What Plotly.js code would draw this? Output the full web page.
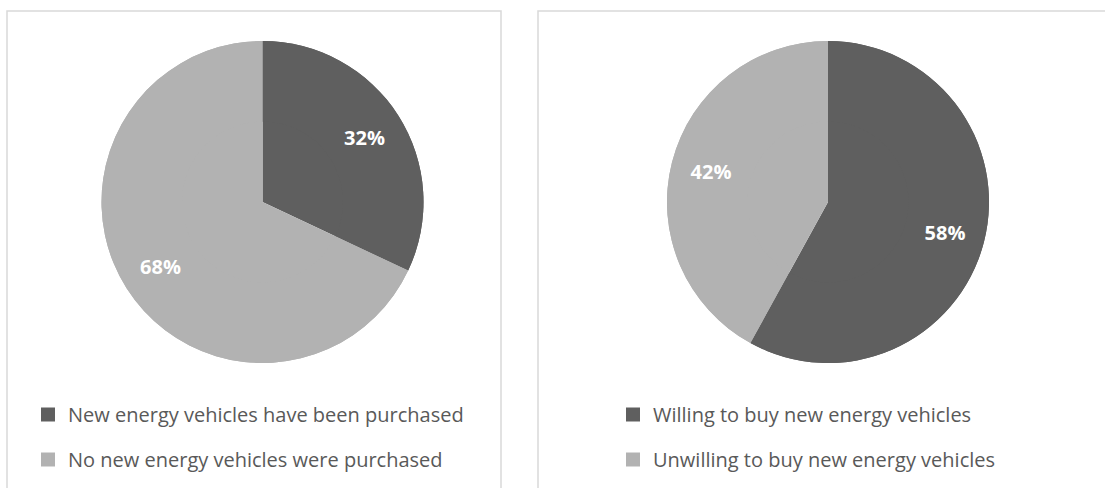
<!DOCTYPE html>
<html>
<head>
<meta charset="utf-8">
<script src="https://cdn.plot.ly/plotly-3.0.1.min.js"></script>
<style>
html,body{margin:0;padding:0;background:#fff;}
#chart{width:1105px;height:488px;}
</style>
</head>
<body>
<div id="chart"></div>
<script>
// Left chart: purchase status
var purchaseCategories = ["New energy vehicles have been purchased", "No new energy vehicles were purchased"];
var purchaseValues = [32, 68];
// Right chart: purchase willingness
var willingnessCategories = ["Willing to buy new energy vehicles", "Unwilling to buy new energy vehicles"];
var willingnessValues = [58, 42];
var sliceColors = ["#5f5f5f", "#b2b2b2"];

var W = 1105, H = 488;
function px(x){ return x / W; }
function py(y){ return 1 - y / H; }

var labelFont = {family: "Open Sans, sans-serif", size: 20, color: "#ffffff", weight: 700};

function pieDomain(x0, x1){ return {x: [px(x0), px(x1)], y: [py(363), py(41)]}; }

// Full pie body (no labels)
function pieBody(labels, values, dom){
  return {
    type: "pie", labels: labels, values: values, sort: false,
    direction: "clockwise", rotation: 0,
    marker: {colors: sliceColors, line: {width: 0}},
    textinfo: "none", hoverinfo: "label+percent",
    domain: dom, showlegend: false
  };
}
// Same data as a ring on top, which carries the percentage labels placed outward like the original
function pieLabels(labels, values, dom){
  return {
    type: "pie", labels: labels, values: values, sort: false,
    direction: "clockwise", rotation: 0, hole: 0.5,
    marker: {colors: sliceColors, line: {width: 0}},
    textinfo: "percent", textposition: "inside",
    insidetextorientation: "horizontal", insidetextfont: labelFont,
    hoverinfo: "label+percent",
    domain: dom, showlegend: false
  };
}
// Legend entries, one per category, so the item spacing can match the original
function legendEntries(labels, legendId){
  return labels.map(function(name, i){
    return {
      type: "scatter", mode: "markers", x: [null], y: [null],
      name: name, legend: legendId, legendgroup: legendId + "_" + i,
      marker: {symbol: "square", size: 14, color: sliceColors[i], line: {width: 0}},
      hoverinfo: "skip", showlegend: true
    };
  });
}

var leftDom = pieDomain(101, 424);
var rightDom = pieDomain(667, 989);

var traces = [
  pieBody(purchaseCategories, purchaseValues, leftDom),
  pieLabels(purchaseCategories, purchaseValues, leftDom),
  pieBody(willingnessCategories, willingnessValues, rightDom),
  pieLabels(willingnessCategories, willingnessValues, rightDom)
].concat(legendEntries(purchaseCategories, "legend"))
 .concat(legendEntries(willingnessCategories, "legend2"));

var legendFont = {family: "Open Sans, sans-serif", size: 20, color: "#595959"};
var borderColor = "#d9d9d9";

var layout = {
  width: W,
  height: H,
  margin: {l: 0, r: 0, t: 0, b: 0},
  paper_bgcolor: "#ffffff",
  plot_bgcolor: "rgba(0,0,0,0)",
  xaxis: {visible: false},
  yaxis: {visible: false},
  showlegend: true,
  legend: {
    x: px(28), y: py(395), xanchor: "left", yanchor: "top",
    orientation: "v", traceorder: "grouped", tracegroupgap: 16,
    font: legendFont, bgcolor: "rgba(0,0,0,0)"
  },
  legend2: {
    x: px(613), y: py(395), xanchor: "left", yanchor: "top",
    orientation: "v", traceorder: "grouped", tracegroupgap: 16,
    font: legendFont, bgcolor: "rgba(0,0,0,0)"
  },
  shapes: [
    {type: "rect", xref: "paper", yref: "paper", x0: px(7), x1: px(501), y0: py(11), y1: -0.1,
     line: {color: borderColor, width: 1.5}, layer: "above"},
    {type: "rect", xref: "paper", yref: "paper", x0: px(538), x1: 1.1, y0: py(11), y1: -0.1,
     line: {color: borderColor, width: 1.5}, layer: "above"}
  ]
};

Plotly.newPlot("chart", traces, layout, {displayModeBar: false, staticPlot: true});
</script>
</body>
</html>
